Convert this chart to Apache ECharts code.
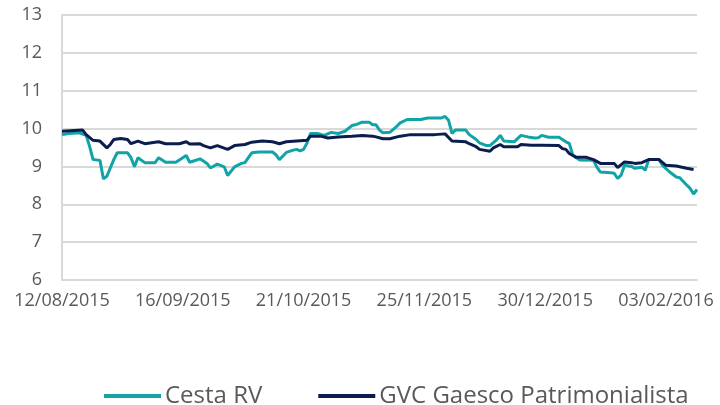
<!DOCTYPE html>
<html>
<head>
<meta charset="utf-8">
<script src="https://cdn.jsdelivr.net/npm/echarts@6/dist/echarts.min.js"></script>
<style>
html,body{margin:0;padding:0;background:#fff;}
#chart{width:720px;height:405px;}
</style>
</head>
<body>
<div id="chart"></div>
<script>
// x values are days after the first date (12/08/2015)
var startDate = [2015, 8, 12];
var seriesNames = ['Cesta RV', 'GVC Gaesco Patrimonialista'];

var cestaDays = [0,2,5,7,8,9,11,12,13,15,16,19,20,21,22,24,27,28,30,33,36,37,40,42,43,45,47,48,50,52,53,54,55,57,61,62,63,65,67,68,69,70,71,72,74,76,78,80,82,84,85,87,89,90,91,92,93,95,97,98,100,104,106,110,111,112,113,114,117,118,120,121,123,124,126,127,128,131,133,135,137,138,139,141,144,146,147,148,150,154,155,156,159,160,161,162,163,165,166,168,169,170,173,174,176,178,179,181,182,183,184];
var cestaValues = [9.84,9.87,9.89,9.82,9.53,9.18,9.16,8.67,8.74,9.18,9.36,9.36,9.23,8.99,9.23,9.10,9.10,9.23,9.11,9.11,9.29,9.11,9.20,9.08,8.96,9.06,8.99,8.76,8.99,9.08,9.10,9.23,9.36,9.38,9.38,9.31,9.18,9.37,9.43,9.45,9.41,9.45,9.62,9.87,9.87,9.82,9.90,9.87,9.93,10.08,10.10,10.17,10.17,10.10,10.10,9.96,9.89,9.90,10.06,10.15,10.24,10.24,10.28,10.28,10.32,10.22,9.87,9.96,9.96,9.84,9.71,9.62,9.55,9.55,9.71,9.82,9.67,9.65,9.82,9.78,9.75,9.76,9.82,9.77,9.77,9.65,9.61,9.30,9.17,9.16,8.98,8.85,8.83,8.82,8.68,8.77,9.03,9.00,8.95,8.98,8.90,9.18,9.18,9.03,8.86,8.72,8.70,8.51,8.42,8.27,8.39];

var gvcDays = [0,6,7,9,11,13,14,15,17,19,20,22,24,28,30,34,36,37,40,41,43,45,48,50,53,55,58,61,63,65,68,71,72,75,77,80,84,87,90,91,93,95,98,101,106,108,111,113,117,118,120,121,124,125,127,128,132,133,136,139,144,145,146,147,149,152,154,156,160,161,163,165,166,168,170,173,175,178,181,183];
var gvcValues = [9.93,9.96,9.84,9.69,9.67,9.49,9.58,9.71,9.74,9.71,9.60,9.67,9.60,9.65,9.60,9.60,9.65,9.59,9.60,9.55,9.49,9.55,9.45,9.55,9.58,9.64,9.67,9.65,9.60,9.65,9.67,9.69,9.80,9.80,9.75,9.78,9.80,9.82,9.80,9.78,9.73,9.73,9.80,9.84,9.84,9.84,9.86,9.67,9.65,9.60,9.52,9.45,9.40,9.49,9.58,9.52,9.52,9.58,9.56,9.56,9.55,9.47,9.45,9.34,9.24,9.24,9.18,9.08,9.08,8.97,9.12,9.10,9.08,9.10,9.18,9.18,9.03,9.01,8.95,8.92];

var yMin = 6, yMax = 13, yStep = 1;
var xMin = 0, xMax = 184, xStep = 35;

function pair(xs, ys){ return xs.map(function(x,i){ return [x, ys[i]]; }); }
function pad(n){ return (n < 10 ? '0' : '') + n; }
function dayLabel(v){
  if (v % xStep !== 0) return '';
  var d = new Date(Date.UTC(startDate[0], startDate[1]-1, startDate[2]) + v*86400000);
  return pad(d.getUTCDate()) + '/' + pad(d.getUTCMonth()+1) + '/' + d.getUTCFullYear();
}

var FONT = "'Open Sans', sans-serif";
var chart = echarts.init(document.getElementById('chart'), null, {renderer:'canvas'});
chart.setOption({
  animation: false,
  backgroundColor: '#ffffff',
  textStyle: {fontFamily: FONT},
  grid: {left: 62, right: 23, top: 15, bottom: 125, containLabel: false},
  legend: {
    left: 99, top: 379,
    icon: 'rect', itemWidth: 57, itemHeight: 4, itemGap: 56,
    textStyle: {fontFamily: FONT, fontSize: 24, color: '#595959', padding: [0,0,0,-1]},
    data: seriesNames
  },
  xAxis: {
    type: 'value', min: xMin, max: xMax, interval: xStep,
    axisLine: {show: true, lineStyle: {color: '#D9D9D9', width: 2}},
    axisTick: {show: false},
    splitLine: {show: false},
    axisLabel: {fontFamily: FONT, fontSize: 18, color: '#595959', margin: 12, formatter: dayLabel, showMaxLabel: false, hideOverlap: false}
  },
  yAxis: {
    type: 'value', min: yMin, max: yMax, interval: yStep,
    axisLine: {show: true, lineStyle: {color: '#D9D9D9', width: 2}},
    axisTick: {show: false},
    splitLine: {show: true, lineStyle: {color: '#D9D9D9', width: 2}},
    axisLabel: {fontFamily: FONT, fontSize: 18, color: '#595959', margin: 20}
  },
  series: [
    {name: seriesNames[0], type: 'line', data: pair(cestaDays, cestaValues), symbol: 'none', smooth: false,
     lineStyle: {color: '#11A3A6', width: 3}, itemStyle: {color: '#11A3A6'}},
    {name: seriesNames[1], type: 'line', data: pair(gvcDays, gvcValues), symbol: 'none', smooth: false,
     lineStyle: {color: '#0B1D4F', width: 3}, itemStyle: {color: '#0B1D4F'}}
  ]
});
</script>
</body>
</html>
